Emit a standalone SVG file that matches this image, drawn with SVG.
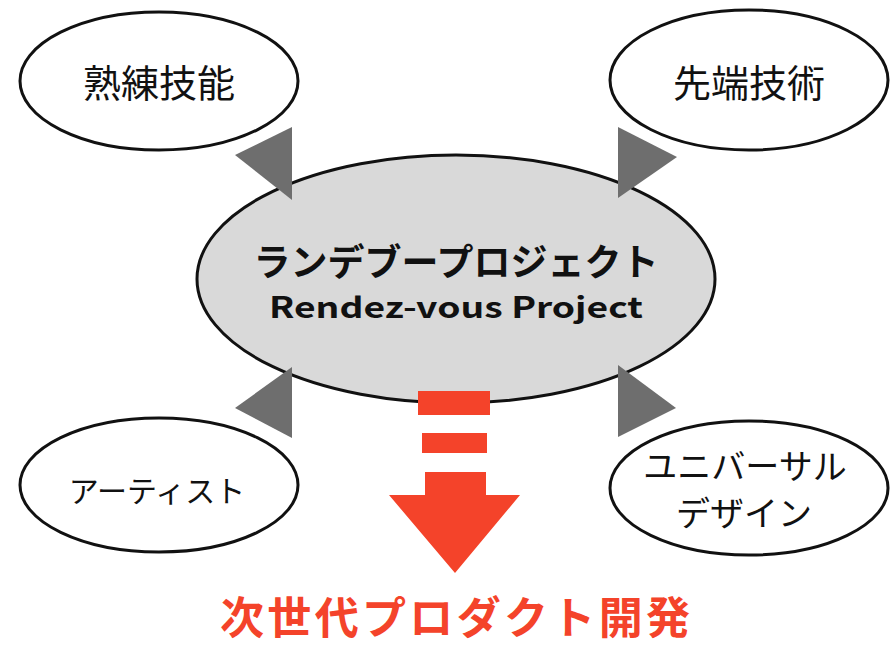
<svg xmlns="http://www.w3.org/2000/svg" width="896" height="646" viewBox="0 0 896 646">
<style>
.node{fill:#fff;stroke:#111;stroke-width:3}
.center{fill:#d9d9d9;stroke:#111;stroke-width:3}
.lbl{font-family:"Noto Sans CJK JP","Liberation Sans",sans-serif;fill:#111;text-anchor:middle}
.tri{fill:#6e6e6e}
.red{fill:#f4432a}
</style>
<rect width="896" height="646" fill="#fff"/>
<g id="node-center">
<ellipse class="center" cx="456" cy="279" rx="259" ry="124"/>
<text class="lbl" x="456" y="276" font-size="37" font-weight="bold">ランデブープロジェクト</text>
<text class="lbl" x="456" y="318" font-size="29" font-weight="bold" textLength="374" lengthAdjust="spacingAndGlyphs">Rendez-vous Project</text>
</g>
<g id="node-jukuren">
<ellipse class="node" cx="159" cy="81" rx="139" ry="69"/>
<text class="lbl" x="159" y="97" font-size="38">熟練技能</text>
</g>
<g id="node-sentan">
<ellipse class="node" cx="749" cy="80" rx="139" ry="70"/>
<text class="lbl" x="749" y="97" font-size="38">先端技術</text>
</g>
<g id="node-artist">
<ellipse class="node" cx="159" cy="485" rx="139" ry="67"/>
<text class="lbl" x="157" y="502" font-size="30">アーティスト</text>
</g>
<g id="node-universal">
<ellipse class="node" cx="749" cy="488" rx="139" ry="67"/>
<text class="lbl" x="745" y="479" font-size="34">ユニバーサル</text>
<text class="lbl" x="744" y="526" font-size="34">デザイン</text>
</g>
<g id="connectors">
<polygon class="tri" points="235,155 292,127 292,200"/>
<polygon class="tri" points="618,127 677,157 618,198"/>
<polygon class="tri" points="235,408 292,367 292,438"/>
<polygon class="tri" points="618,365 676,408 618,437"/>
<rect class="red" x="418" y="391" width="72" height="24"/>
<rect class="red" x="422" y="433" width="65" height="20"/>
<polygon class="red" points="425,472 486,472 486,495 520,495 455,573 389,495 425,495"/>
</g>
<g id="node-result">
<text x="455" y="634" font-size="44" font-weight="bold" text-anchor="middle" fill="#f4432a" font-family="Noto Sans CJK JP, sans-serif" textLength="470" lengthAdjust="spacing">次世代プロダクト開発</text>
</g>
</svg>
